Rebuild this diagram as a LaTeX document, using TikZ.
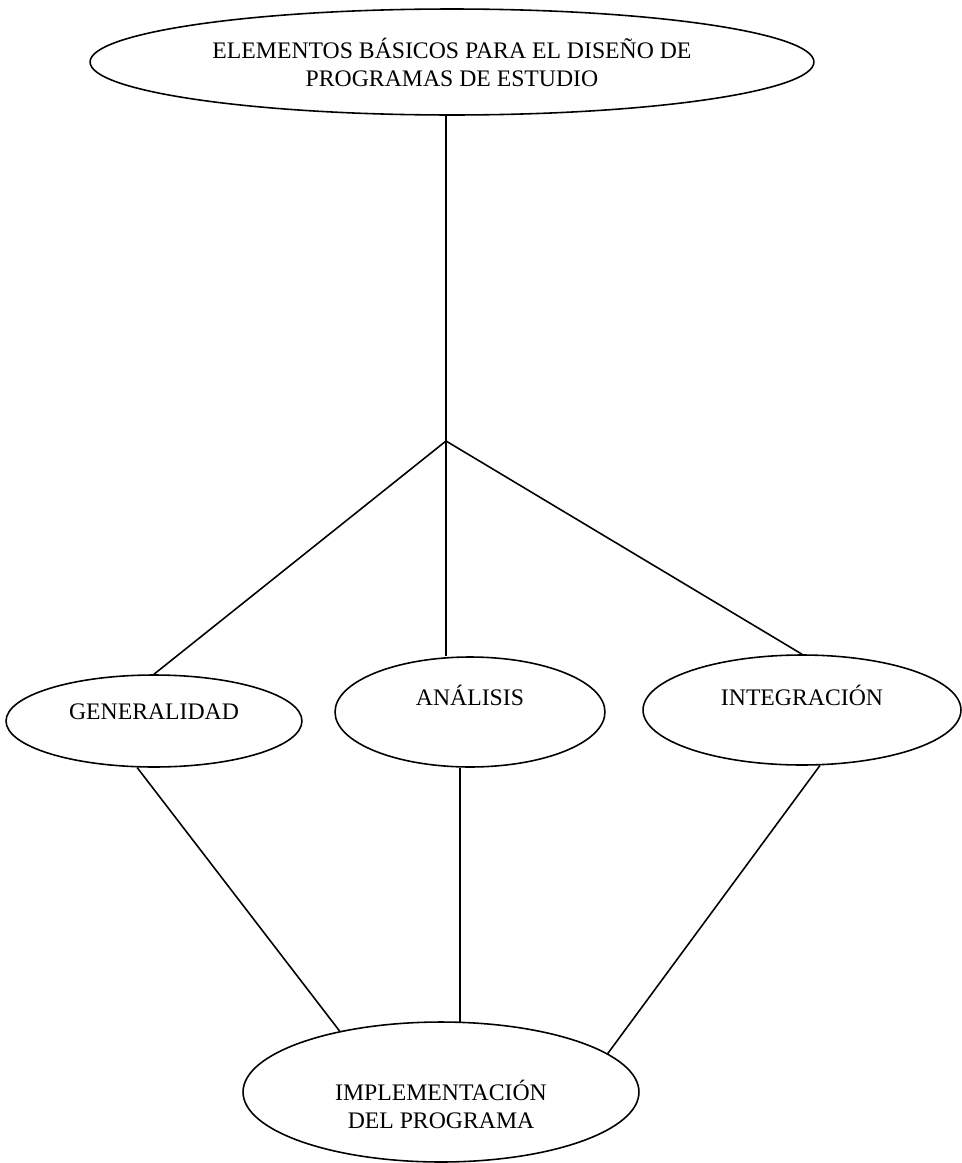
\documentclass[tikz,border=0pt]{standalone}
\usepackage{fontspec}
\setmainfont{Liberation Serif}
\usetikzlibrary{shapes.geometric}

\begin{document}
\begin{tikzpicture}[x=0.02cm, y=-0.02cm,
            every node/.style={font=\fontsize{13.5}{16}\selectfont},
            oval/.style={draw, ellipse, line width=0.9pt, inner sep=0pt, align=center},
            conn/.style={line width=0.9pt}]

            \useasboundingbox (0,0) rectangle (962,1163);

            \node[oval, minimum width=14.48cm, minimum height=2.12cm] (top) at (452,62)
            {ELEMENTOS BÁSICOS PARA EL DISEÑO DE\\PROGRAMAS DE ESTUDIO};

            \coordinate (j) at (446,441);

            \node[oval, minimum width=5.92cm, minimum height=1.84cm,
                label={[yshift=0.18cm]center:GENERALIDAD}] (gen) at (154,721) {};
            \node[oval, minimum width=5.4cm, minimum height=2.2cm,
                label={[yshift=0.34cm]center:ANÁLISIS}] (ana) at (470,712) {};
            \node[oval, minimum width=6.36cm, minimum height=2.2cm,
                label={[yshift=0.3cm]center:INTEGRACIÓN}] (int) at (802,710) {};

            \node[oval, minimum width=7.92cm, minimum height=2.8cm,
                label={[yshift=-0.24cm, align=center]center:IMPLEMENTACIÓN\\DEL PROGRAMA}] (impl) at (441,1092) {};

            \draw[conn] (j |- top.south) -- (j);
            \draw[conn] (j) -- (gen.north);
            \draw[conn] (j) -- (j |- ana.north);
            \draw[conn] (j) -- (int.north);

            \draw[conn] (gen.250) -- (impl.149);
            \draw[conn] (ana.south -| impl.75) -- (impl.75);
            \draw[conn] (int.288) -- (impl.13);
        \end{tikzpicture}
\end{document}
